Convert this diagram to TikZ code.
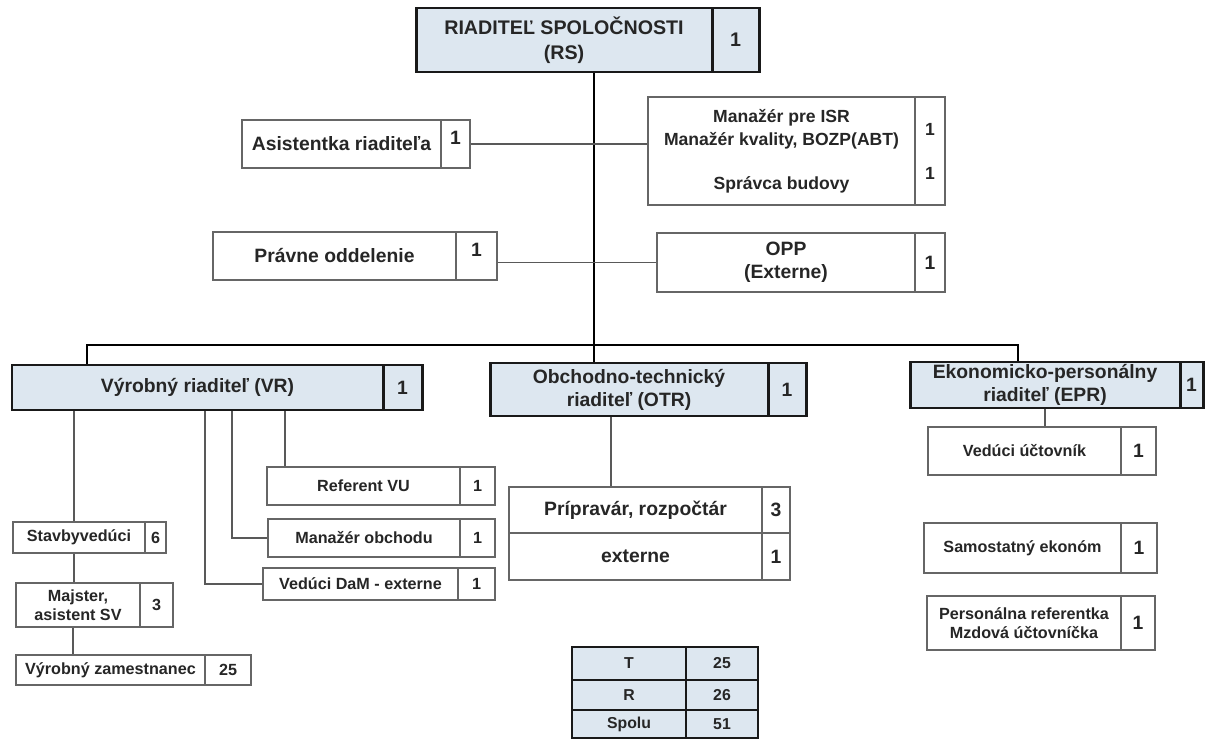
\documentclass[tikz,border=0pt]{standalone}
\usepackage{fontspec}
\setmainfont{Liberation Sans}
\usepackage{tikz}
\usetikzlibrary{positioning}
\definecolor{headblue}{RGB}{221,231,240}
\tikzset{
  cell/.style={draw=gray!80!black, line width=0.6pt, inner sep=0pt, align=center,
    text=black!85, font=\bfseries\fontsize{9.2}{11}\selectfont},
  bigcell/.style={cell, font=\bfseries\fontsize{11}{13}\selectfont},
  head/.style={bigcell, draw=black!90, line width=1.7pt, fill=headblue},
  tot/.style={head, line width=1.5pt, font=\bfseries\fontsize{9}{11}\selectfont},
  link/.style={draw=gray!70!black, line width=0.6pt},
  bus/.style={draw=black, line width=1.4pt}
}
% box with a count cell: [style]{name}{x1}{y1}{x divider}{x2}{y2}{text}{count}
\newcommand{\orgbox}[9][cell]{%
  \node[#1, minimum width={(#5-#3)*0.02cm}, minimum height={(#7-#4)*0.02cm}]
    (#2) at ({(#3+#5)/2},{(#4+#7)/2}) {#8};
  \node[#1, minimum width={(#6-#5)*0.02cm}, minimum height={(#7-#4)*0.02cm}]
    (#2-n) at ({(#5+#6)/2},{(#4+#7)/2}) {#9};
}
\begin{document}
\begin{tikzpicture}[x=0.02cm, y=-0.02cm]
  \path[use as bounding box, fill=white] (0,0) rectangle (1209,740);

  % top
  \orgbox[head, font=\bfseries\fontsize{11.2}{14}\selectfont]{rs}{416}{8}{712}{759}{72}{RIADITEĽ SPOLOČNOSTI\\(RS)}{1}
  \orgbox[bigcell]{asist}{242}{120}{441}{470}{168}{Asistentka riaditeľa}{\raisebox{7pt}{1}}
  \orgbox[cell, font=\bfseries\fontsize{10}{13}\selectfont]{man}{648}{97}{915}{945}{205}%
    {Manažér pre ISR\\Manažér kvality, BOZP(ABT)\\[12pt]Správca budovy}{1\\[12pt]1}
  \orgbox[bigcell]{prav}{213}{232}{456}{497}{280}{Právne oddelenie}{\raisebox{7pt}{1}}
  \orgbox[bigcell]{opp}{657}{233}{915}{945}{292}{OPP\\(Externe)}{1}

  % directors
  \orgbox[head]{vr}{12}{365}{383}{422}{410}{\raisebox{-3pt}{Výrobný riaditeľ (VR)}}{1}
  \orgbox[head]{otr}{490}{363}{768}{806}{416}{Obchodno-technický\\riaditeľ (OTR)}{1}
  \orgbox[head]{epr}{910}{362}{1180}{1203}{408}{Ekonomicko-personálny\\riaditeľ (EPR)}{1}

  % VR
  \orgbox{ref}{267}{467}{460}{495}{505}{Referent VU}{1}
  \orgbox{mob}{268}{519}{460}{495}{557}{Manažér obchodu}{1}
  \orgbox{dam}{263}{568}{458}{495}{600}{Vedúci DaM - externe}{1}
  \orgbox{stav}{13}{522}{145}{166}{553}{Stavbyvedúci}{6}
  \orgbox{maj}{16}{583}{140}{173}{627}{Majster,\\asistent SV}{3}
  \orgbox{zam}{16}{655}{205}{251}{685}{Výrobný zamestnanec}{25}

  % OTR
  \orgbox[bigcell]{prip}{509}{487}{762}{790}{533}{Prípravár, rozpočtár}{3}
  \orgbox[bigcell]{ext}{509}{533}{762}{790}{580}{externe}{1}

  % EPR
  \orgbox{vuc}{928}{427}{1121}{1156}{475}{Vedúci účtovník}{\fontsize{11}{13}\selectfont 1}
  \orgbox{sam}{924}{523}{1121}{1157}{573}{Samostatný ekonóm}{\fontsize{11}{13}\selectfont 1}
  \orgbox{pers}{927}{596}{1121}{1155}{650}{Personálna referentka\\Mzdová účtovníčka}{\fontsize{11}{13}\selectfont 1}

  % totals
  \orgbox[tot]{rowt}{572}{647}{686}{758}{680}{T}{25}
  \orgbox[tot]{rowr}{572}{680}{686}{758}{710}{R}{26}
  \orgbox[tot]{rows}{572}{710}{686}{758}{738}{Spolu}{51}

  % lines
  \coordinate (tr) at (594,345);
  \draw[bus] (rs.south -| tr) -- (otr.north -| tr);
  \draw[bus] ([xshift=-2.21cm]vr.north) |- (tr) -| ([xshift=-0.54cm]epr.north);
  \draw[link] (asist-n.east) -- (asist-n.east -| man.west);
  \draw[link] (prav-n.east |- opp.west) -- (opp.west);

  \draw[link] ([xshift=-0.1cm]stav.north) -- ([xshift=-0.1cm]stav.north |- vr.south);
  \draw[link] ([xshift=-0.08cm]maj.north) -- ([xshift=-0.08cm]maj.north |- stav.south);
  \draw[link] ([xshift=-0.1cm]maj.south) -- ([xshift=-0.1cm]maj.south |- zam.north);
  \draw[link] ([xshift=0.15cm]vr.south) |- (dam.west);
  \draw[link] ([xshift=0.69cm]vr.south) |- (mob.west);
  \draw[link] ([xshift=1.75cm]vr.south) -- ([xshift=1.75cm]vr.south |- ref.north);

  \draw[link] ([xshift=-0.36cm]otr.south) -- ([xshift=-0.36cm]otr.south |- prip.north);
  \draw[link] (epr.south) -- (epr.south |- vuc.north);
\end{tikzpicture}
\end{document}
